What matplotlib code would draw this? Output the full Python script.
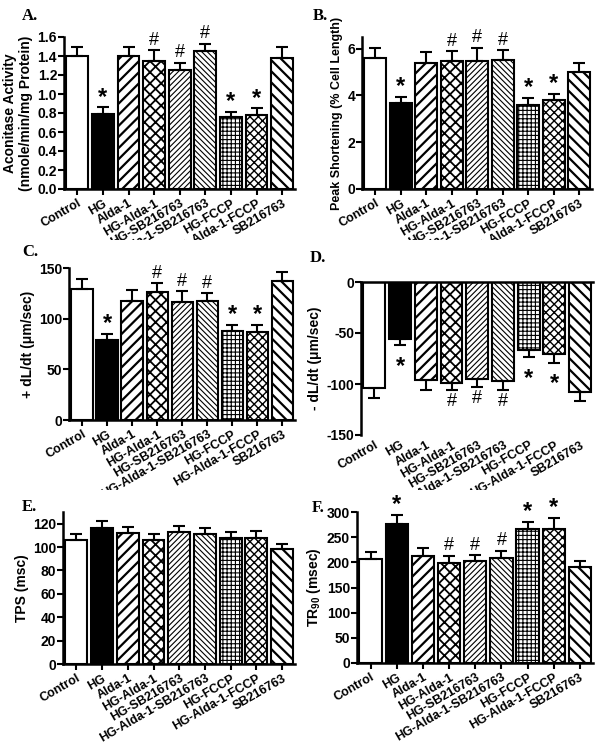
import numpy as np
import matplotlib
matplotlib.use('Agg')
import matplotlib.pyplot as plt
from matplotlib.transforms import Bbox, TransformedBbox

plt.rcParams['font.family'] = 'Liberation Sans'
plt.rcParams['font.weight'] = 'bold'
plt.rcParams['mathtext.fontset'] = 'custom'
plt.rcParams['mathtext.rm'] = 'Liberation Sans:bold'
plt.rcParams['mathtext.bf'] = 'Liberation Sans:bold'
plt.rcParams['hatch.linewidth'] = 1.3

### DATA ###

groups = ['Control', 'HG', 'Alda-1', 'HG-Alda-1', 'HG-SB216763', 'HG-Alda-1-SB216763',
          'HG-FCCP', 'HG-Alda-1-FCCP', 'SB216763']

aconitase = [1.40, 0.79, 1.40, 1.35, 1.25, 1.45, 0.76, 0.78, 1.38]
aconitase_err = [0.09, 0.07, 0.10, 0.11, 0.08, 0.08, 0.05, 0.07, 0.12]

peak_short = [5.62, 3.66, 5.39, 5.48, 5.46, 5.52, 3.59, 3.80, 5.00]
peak_short_err = [0.41, 0.28, 0.47, 0.41, 0.58, 0.41, 0.31, 0.28, 0.40]

plus_dldt = [129, 79, 117, 126, 116, 117, 88, 87, 137]
plus_dldt_err = [10, 6, 11, 9, 11, 8, 6, 7, 9]

minus_dldt = [-104, -56, -96, -99, -95, -97, -67, -71, -108]
minus_dldt_err = [10, 6, 10, 7, 8, 9, 7, 8, 9]

tps = [106, 116, 112, 106, 113, 111, 108, 108, 98]
tps_err = [5, 6, 5, 5, 5, 5, 5, 6, 5]

tr90 = [206, 276, 212, 198, 202, 209, 266, 267, 191]
tr90_err = [15, 19, 17, 15, 12, 14, 14, 21, 12]

# significance marks (* vs control, # vs HG)
sig = ['', '*', '', '#', '#', '#', '*', '*', '']
no_sig = [''] * 9

# bar fill styles
fills = ['white', 'black', 'white', 'white', 'white', 'white', 'white', 'white', 'white']
hatches = [None, None, '///', 'xxx', '//////', '\\\\\\\\\\\\', '++++', 'xxxx', '\\\\\\']
hatch_lw = [1, 1, 1.6, 1.3, 0.8, 0.8, 0.8, 1.0, 1.6]


def clipLabels(ax, fig, top_px, bottom_px):
	# the composite figure cuts long labels off at the next panel
	box = TransformedBbox(Bbox([[0, 1 - bottom_px / 750], [1, 1 - top_px / 750]]), fig.transFigure)
	for lab in ax.get_xticklabels():
		lab.set_clip_on(True)
		lab.set_clip_box(box)


def barPanel(fig, rect, means, errs, marks, ylim, yticks, fmt, ylabel, letter, letter_xy, clip,
			 negative=False, ylabel_size=10):
	ax = fig.add_axes(rect)
	x = np.arange(len(means))
	bars = ax.bar(x, means, width=0.85, color=fills, edgecolor='black', linewidth=1.5, zorder=2)
	for b, h, lw in zip(bars, hatches, hatch_lw):
		if h:
			b.set_hatch(h)
			if hasattr(b, 'set_hatch_linewidth'):
				b.set_hatch_linewidth(lw)

	# error bars only on the outer side
	zeros = [0] * len(means)
	yerr = [errs, zeros] if negative else [zeros, errs]
	ax.errorbar(x, means, yerr=yerr, fmt='none', ecolor='black', elinewidth=1.5,
				capsize=4.5, capthick=1.5, zorder=3)

	# significance symbols
	for i in range(len(means)):
		if marks[i] == '':
			continue
		if negative:
			y = means[i] - errs[i]
			off, va = -2, 'top'
		else:
			y = means[i] + errs[i]
			off, va = 1, 'bottom'
		if marks[i] == '*':
			ax.annotate('*', (x[i], y), xytext=(0, off - (5 if negative else 2)), textcoords='offset points',
						ha='center', va=va, fontsize=17, fontweight='bold')
		else:
			ax.annotate('#', (x[i], y), xytext=(0, off), textcoords='offset points',
						ha='center', va=va, fontsize=13, fontweight='normal')

	ax.set_xlim(-0.52, 8.5)
	ax.set_ylim(*ylim)
	ax.set_yticks(yticks)
	ax.set_yticklabels([fmt.format(v) for v in yticks])
	ax.set_xticks(x)
	ax.set_xticklabels(groups, rotation=30, ha='right', rotation_mode='anchor', fontsize=9)
	ax.set_ylabel(ylabel, fontsize=ylabel_size, fontweight='bold', labelpad=3)
	ax.tick_params(axis='y', labelsize=10, width=1.5, length=4, pad=1)

	for s in ['left', 'bottom', 'top', 'right']:
		ax.spines[s].set_linewidth(1.8)
	ax.spines['right'].set_visible(False)
	if negative:
		# GraphPad style: the x axis sits at zero, labels stay at the bottom
		ax.spines['bottom'].set_visible(False)
		ax.tick_params(axis='x', width=0, length=0, pad=3)
	else:
		ax.spines['top'].set_visible(False)
		ax.tick_params(axis='x', width=1.5, length=4, pad=2)

	fig.text(letter_xy[0] / 600, 1 - letter_xy[1] / 750, letter, family='Liberation Serif',
			 fontweight='bold', fontsize=12, ha='left', va='center')
	clipLabels(ax, fig, clip[0], clip[1])
	return ax


if __name__ == '__main__':
	fig = plt.figure(figsize=(6, 7.5), dpi=100)

	def rect(l, r, t, b):
		return [l / 600, 1 - b / 750, (r - l) / 600, (b - t) / 750]

	barPanel(fig, rect(64, 295, 37, 189), aconitase, aconitase_err, sig, (0, 1.6),
			 np.arange(0, 1.61, 0.2), '{:.1f}', 'Aconitase Activity\n(nmole/min/mg Protein)',
			 'A.', (22, 16), (0, 240))
	barPanel(fig, rect(362, 592, 37, 189), peak_short, peak_short_err, sig, (0, 6.5),
			 [0, 2, 4, 6], '{:.0f}', 'Peak Shortening (% Cell Length)',
			 'B.', (313, 16), (0, 240), ylabel_size=9)
	barPanel(fig, rect(69, 295, 268, 420), plus_dldt, plus_dldt_err, sig, (0, 150),
			 [0, 50, 100, 150], '{:.0f}', '+ dL/dt (\u03bcm/sec)',
			 'C.', (22, 252), (240, 490))
	barPanel(fig, rect(361, 593, 282, 435), minus_dldt, minus_dldt_err, sig, (-150, 0),
			 [-150, -100, -50, 0], '{:.0f}', '- dL/dt (\u03bcm/sec)',
			 'D.', (310, 258), (240, 490), negative=True)
	barPanel(fig, rect(63, 295, 512, 664), tps, tps_err, no_sig, (0, 130),
			 np.arange(0, 121, 20), '{:.0f}', 'TPS (msc)',
			 'E.', (22, 507), (490, 750))
	barPanel(fig, rect(357, 593, 512, 663), tr90, tr90_err, sig, (0, 300),
			 np.arange(0, 301, 50), '{:.0f}', r'TR$_{\mathbf{90}}$ (msec)',
			 'F.', (312, 508), (490, 750))

	plt.savefig('out.png', dpi=100)
